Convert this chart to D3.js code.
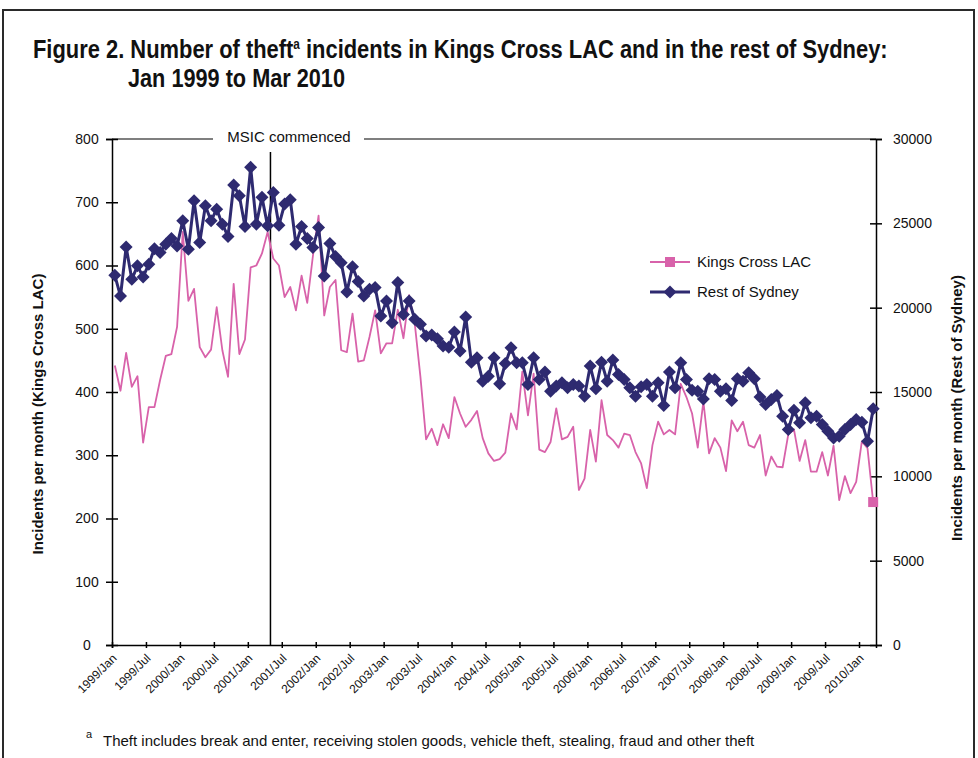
<!DOCTYPE html>
<html><head><meta charset="utf-8">
<script src="https://cdn.jsdelivr.net/npm/d3@7"></script>
<style>body{margin:0;background:#fff}</style>
</head><body>
<svg id="c" width="978" height="758" xmlns="http://www.w3.org/2000/svg"></svg>
<script>
// ---------- data ----------
const monthNames = ["Jan","Feb","Mar","Apr","May","Jun","Jul","Aug","Sep","Oct","Nov","Dec"];
const categories = [];
for (let yr = 1999; yr <= 2010; yr++) {
  for (let m = 0; m < 12; m++) {
    if (yr === 2010 && m > 2) break;
    categories.push(yr + "/" + monthNames[m]);
  }
}
const kingsCross = [
  442,402,462,408,425,320,376,376,419,457,460,503,
  653,544,563,471,455,467,534,466,424,571,460,483,
  597,600,619,653,611,600,550,566,529,584,541,615,
  679,521,566,577,466,463,524,448,450,487,529,461,
  477,477,530,485,553,508,424,325,342,316,349,327,
  392,366,345,356,370,327,303,291,294,304,366,341,
  432,363,429,309,305,321,374,325,329,345,245,263,
  340,290,387,332,324,312,334,332,305,287,248,316,
  353,333,340,333,413,392,366,312,385,303,327,312,
  275,355,338,353,316,312,332,268,298,282,281,333,
  341,291,324,274,274,305,268,315,229,267,240,258,
  322,311,226
];
const restOfSydney = [
  21920,20690,23600,21680,22480,21820,22580,23500,23270,23760,24100,23660,
  25150,23470,26340,23860,26040,25150,25840,24950,24220,27270,26630,24810,
  28320,24950,26540,24850,26830,24890,26140,26400,23760,24810,24100,23570,
  24750,21880,23800,23030,22670,20930,22420,21550,20690,21090,21190,19500,
  20400,19110,21490,19600,20400,19310,19010,18320,18380,18160,17720,17660,
  18550,17430,19450,16770,17030,15640,15940,17030,15490,16690,17620,16730,
  16730,15450,17030,15740,16180,15050,15350,15550,15250,15450,15350,14750,
  16540,15190,16770,15640,16890,16040,15740,15250,14750,15310,15450,14750,
  15550,14200,16180,15250,16730,15740,15110,15050,14590,15780,15740,15050,
  15190,14500,15780,15640,16140,15780,14710,14260,14550,14790,13560,12770,
  13920,13170,14360,13470,13560,13070,12670,12280,12380,12770,13070,13370,
  13210,12080,14000
];
const tickLabels = ["1999/Jan","1999/Jul","2000/Jan","2000/Jul","2001/Jan","2001/Jul",
  "2002/Jan","2002/Jul","2003/Jan","2003/Jul","2004/Jan","2004/Jul","2005/Jan","2005/Jul",
  "2006/Jan","2006/Jul","2007/Jan","2007/Jul","2008/Jan","2008/Jul","2009/Jan","2009/Jul","2010/Jan"];
const leftTicks = [0,100,200,300,400,500,600,700,800];
const rightTicks = [0,5000,10000,15000,20000,25000,30000];
const msicMonth = "2001/May";
const seriesNames = ["Kings Cross LAC","Rest of Sydney"];

// ---------- drawing ----------
const PINK = "#d862aa", NAVY = "#2e2a70";
const svg = d3.select("#c");
const FONT = "'Liberation Sans', Arial, sans-serif";

svg.append("rect").attr("x",3).attr("y",10).attr("width",971).attr("height",770)
  .attr("fill","none").attr("stroke","#2a2a2a").attr("stroke-width",2);

// title
function fitText(sel, x0, w) {
  const L = sel.node().getComputedTextLength();
  sel.attr("transform", `translate(${x0},0) scale(${w / L},1) translate(${-x0},0)`);
}
const t1 = svg.append("text").attr("x",33).attr("y",58)
  .style("font-family","'Liberation Sans Narrow','Arial Narrow','Liberation Sans',sans-serif")
  .style("font-weight","bold").style("font-size","26px").attr("fill","#111");
t1.append("tspan").text("Figure 2. Number of theft");
t1.append("tspan").text("a").style("font-size","14px").attr("dy",-9);
t1.append("tspan").text(" incidents in Kings Cross LAC and in the rest of Sydney:").attr("dy",9);
fitText(t1, 33, 855);
const t2 = svg.append("text").attr("x",128).attr("y",87)
  .style("font-family","'Liberation Sans Narrow','Arial Narrow','Liberation Sans',sans-serif")
  .style("font-weight","bold").style("font-size","26px").attr("fill","#111")
  .text("Jan 1999 to Mar 2010");
fitText(t2, 128, 217);

// scales
const x = d3.scaleBand().domain(categories).range([112, 876]).padding(0);
const xi = d3.scaleLinear().domain([0, categories.length]).range([112, 876]);
const cx = c => x(c) + x.bandwidth() / 2;
const yL = d3.scaleLinear().domain([0, 800]).range([645, 139]);
const yR = d3.scaleLinear().domain([0, 30000]).range([645, 139]);

// top border line
svg.append("line").attr("x1",112).attr("x2",876).attr("y1",139).attr("y2",139)
  .attr("stroke","#000").attr("stroke-width",1.2);

// axes
const gL = svg.append("g").attr("transform","translate(112,0)")
  .call(d3.axisLeft(yL).tickValues(leftTicks).tickSizeOuter(0).tickSize(6));
gL.selectAll(".tick line").attr("x1",-6).attr("x2",6).attr("stroke","#000").attr("stroke-width",1.5);
gL.selectAll(".tick text").attr("x",-25).attr("text-anchor","middle")
  .style("font-family",FONT).style("font-size","14px").attr("fill","#111");
gL.select(".domain").attr("stroke","#000").attr("stroke-width",1.5);

const gR = svg.append("g").attr("transform","translate(876,0)")
  .call(d3.axisRight(yR).tickValues(rightTicks).tickFormat(d3.format("d")).tickSizeOuter(0).tickSize(6));
gR.selectAll(".tick line").attr("x1",-6).attr("x2",6).attr("stroke","#000").attr("stroke-width",1.5);
gR.selectAll(".tick text").attr("x",17).style("font-family",FONT).style("font-size","14px").attr("fill","#111");
gR.select(".domain").attr("stroke","#000").attr("stroke-width",1.5);

const tickIdx = tickLabels.map(l => categories.indexOf(l));
const gB = svg.append("g").attr("transform","translate(0,645)")
  .call(d3.axisBottom(xi).tickValues(tickIdx).tickFormat(i => categories[i]).tickSizeOuter(0).tickSize(3));
gB.selectAll(".tick line").attr("y1",-3).attr("y2",3).attr("stroke","#000").attr("stroke-width",1.5);
gB.selectAll(".tick text").attr("x",0).attr("y",0).attr("dy",0)
  .attr("text-anchor","end").attr("transform","translate(5,14) rotate(-45)")
  .style("font-family",FONT).style("font-size","12px").attr("fill","#111");
gB.select(".domain").attr("stroke","#000").attr("stroke-width",1.5);

// axis titles
svg.append("text").attr("transform","translate(43,414) rotate(-90)").attr("text-anchor","middle")
  .style("font-family",FONT).style("font-weight","bold").style("font-size","15px").attr("fill","#111")
  .text("Incidents per month (Kings Cross LAC)");
svg.append("text").attr("transform","translate(962,408) rotate(-90)").attr("text-anchor","middle")
  .style("font-family",FONT).style("font-weight","bold").style("font-size","15px").attr("fill","#111")
  .text("Incidents per month (Rest of Sydney)");

// MSIC line & label
svg.append("rect").attr("x",213).attr("y",128).attr("width",151).attr("height",20).attr("fill","#fff");
svg.append("text").attr("x",289).attr("y",142).attr("text-anchor","middle")
  .style("font-family",FONT).style("font-size","15px").attr("fill","#111").text("MSIC commenced");
svg.append("line").attr("x1",x(msicMonth)).attr("x2",x(msicMonth)).attr("y1",152).attr("y2",645)
  .attr("stroke","#000").attr("stroke-width",1.5);

// series
const lineK = d3.line().x((d,i) => cx(categories[i])).y(d => yL(d));
const lineR = d3.line().x((d,i) => cx(categories[i])).y(d => yR(d));
svg.append("path").datum(kingsCross).attr("d",lineK).attr("fill","none")
  .attr("stroke",PINK).attr("stroke-width",1.8).attr("stroke-linejoin","round");
const last = kingsCross.length - 1;
svg.append("rect").attr("x",cx(categories[last])-5).attr("y",yL(kingsCross[last])-5)
  .attr("width",10).attr("height",10).attr("fill",PINK);

const diamond = "M0,-6.5L6.5,0L0,6.5L-6.5,0Z";
svg.append("path").datum(restOfSydney).attr("d",lineR).attr("fill","none")
  .attr("stroke",NAVY).attr("stroke-width",3).attr("stroke-linejoin","round");
svg.append("g").selectAll("path").data(restOfSydney).join("path")
  .attr("d",diamond).attr("fill",NAVY)
  .attr("transform",(d,i) => `translate(${cx(categories[i])},${yR(d)})`);

// legend
const lg = svg.append("g");
lg.append("line").attr("x1",650).attr("x2",690).attr("y1",262).attr("y2",262).attr("stroke",PINK).attr("stroke-width",1.8);
lg.append("rect").attr("x",665).attr("y",257).attr("width",10).attr("height",10).attr("fill",PINK);
lg.append("text").attr("x",697).attr("y",267).style("font-family",FONT).style("font-size","15px").attr("fill","#111").text(seriesNames[0]);
lg.append("line").attr("x1",650).attr("x2",690).attr("y1",292).attr("y2",292).attr("stroke",NAVY).attr("stroke-width",3);
lg.append("path").attr("d",diamond).attr("fill",NAVY).attr("transform","translate(670,292)");
lg.append("text").attr("x",697).attr("y",297).style("font-family",FONT).style("font-size","15px").attr("fill","#111").text(seriesNames[1]);

// footnote
svg.append("text").attr("x",86).attr("y",738).style("font-family",FONT).style("font-size","11px").attr("fill","#111").text("a");
svg.append("text").attr("x",103).attr("y",746).style("font-family",FONT).style("font-size","15px").attr("fill","#111")
  .text("Theft includes break and enter, receiving stolen goods, vehicle theft, stealing, fraud and other theft");
</script>
</body></html>
